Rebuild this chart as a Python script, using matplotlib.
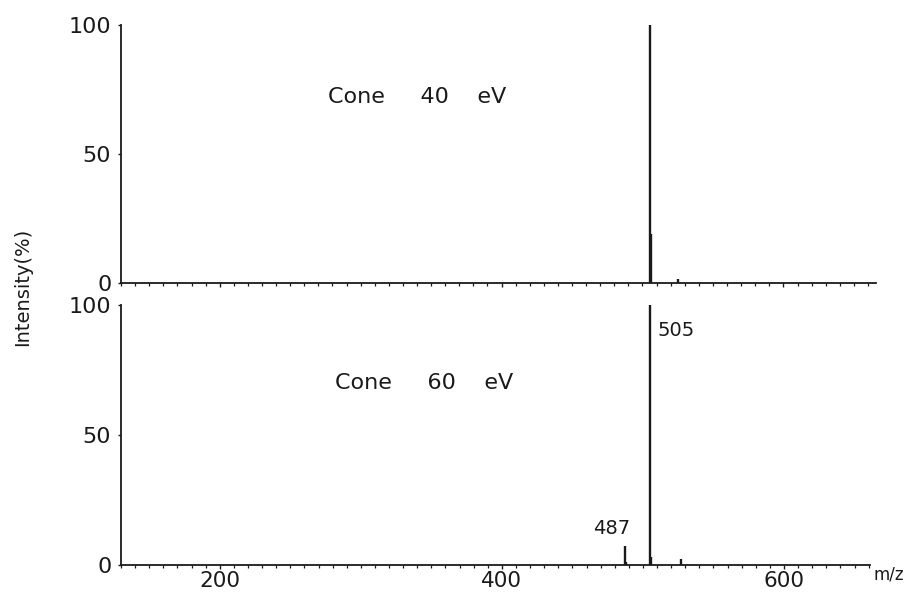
import matplotlib.pyplot as plt
from matplotlib import font_manager
from matplotlib.ticker import MultipleLocator

# m/z values and relative intensities (%) for each cone voltage
mz_40 = [505, 506, 525]
int_40 = [100, 19, 1.5]

mz_60 = [487, 488, 505, 506, 527]
int_60 = [7.5, 1.0, 100, 3.0, 2.5]

cone_labels = ["Cone     40    eV", "Cone     60    eV"]
peak_labels = [(505, "505"), (487, "487")]

x_ticks = [200, 400, 600]
y_ticks = [0, 50, 100]

names = {f.name for f in font_manager.fontManager.ttflist}
narrow = "Liberation Sans Narrow" if "Liberation Sans Narrow" in names else "DejaVu Sans"

plt.rcParams["font.family"] = ["DejaVu Sans"]
ink = "#1a1a1a"

fig = plt.figure(figsize=(9.19, 5.92), dpi=100)
ax_top = fig.add_axes([0.1317, 0.522, 0.822, 0.436])
ax_bot = fig.add_axes([0.1317, 0.0456, 0.815, 0.4392])


def style_axis(ax, xmax, show_x):
    ax.set_xlim(130, xmax)
    ax.set_ylim(0, 100)
    for side in ("top", "right"):
        ax.spines[side].set_visible(False)
    for side in ("left", "bottom"):
        ax.spines[side].set_color(ink)
        ax.spines[side].set_linewidth(1.3)
    ax.set_yticks(y_ticks)
    ax.set_xticks(x_ticks)
    ax.xaxis.set_minor_locator(MultipleLocator(10))
    ax.tick_params(axis="y", length=2, width=1, colors=ink, labelsize=16, pad=5)
    ax.tick_params(axis="x", which="major", length=3, width=1, colors=ink,
                   labelsize=15.5, pad=1.5)
    ax.tick_params(axis="x", which="minor", length=2.5, width=0.9, colors=ink)
    if not show_x:
        ax.tick_params(axis="x", labelbottom=False)
    ax.patch.set_alpha(0)


# both panels share the same m/z scale; the upper baseline runs a bit further
style_axis(ax_top, 666, show_x=False)
style_axis(ax_bot, 661, show_x=True)

ax_top.vlines(mz_40, 0, int_40, color=ink, linewidth=1.7)
ax_bot.vlines(mz_60, 0, int_60, color=ink, linewidth=1.7)

ax_top.text(0.274, 0.721, cone_labels[0], transform=ax_top.transAxes,
            ha="left", va="center", fontsize=16, color=ink)
ax_bot.text(0.286, 0.70, cone_labels[1], transform=ax_bot.transAxes,
            ha="left", va="center", fontsize=16, color=ink)

# peak annotations in the lower spectrum
for mz, label in peak_labels:
    height = int_60[mz_60.index(mz)]
    if mz == 505:
        ax_bot.text(mz + 5, 90, label, ha="left", va="center", fontsize=14, color=ink)
    else:
        ax_bot.text(mz - 9, height + 6.5, label, ha="center", va="center",
                    fontsize=14, color=ink)

fig.text(0.951, 0.029, "m/z", ha="left", va="center", fontsize=12, color=ink)
fig.text(0.025, 0.515, "Intensity(%)", rotation=90, ha="center", va="center",
         fontsize=14, color=ink, family=[narrow, "DejaVu Sans"])

fig.savefig("out.png", dpi=100)
